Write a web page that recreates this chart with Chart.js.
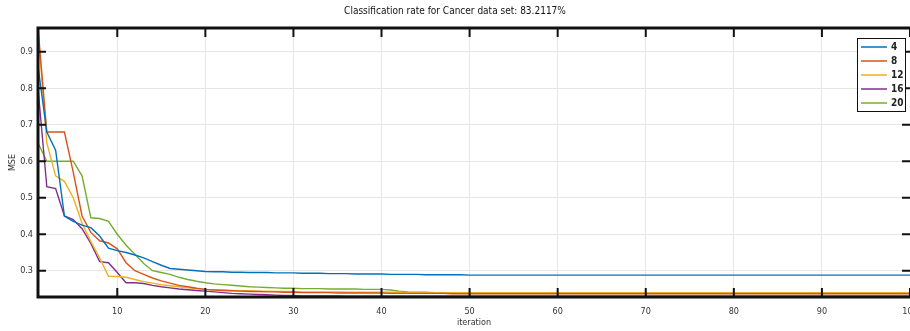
<!DOCTYPE html>
<html>
<head>
<meta charset="utf-8">
<script src="https://cdn.jsdelivr.net/npm/chart.js@4.4.1/dist/chart.umd.min.js"></script>
<style>
  html, body { margin: 0; padding: 0; background: #fff; overflow: hidden; }
  #wrap { position: relative; width: 940px; height: 331px; }
</style>
</head>
<body>
<div id="wrap"><canvas id="mseChart"></canvas></div>
<script>
'use strict';

/* --------------------------------------------------------------------------
   DATA — MSE per iteration for each hidden-layer size
   -------------------------------------------------------------------------- */
const iterations = Array.from({ length: 100 }, (_, i) => i + 1);

const seriesLabels = ['4', '8', '12', '16', '20'];
const seriesColors = ['#0072BD', '#D95319', '#EDB120', '#7E2F8E', '#77AC30'];

const mse4 = [
  0.86, 0.68, 0.63, 0.45, 0.435, 0.425, 0.418, 0.395, 0.362, 0.355,
  0.35, 0.343, 0.335, 0.325, 0.315, 0.306, 0.304, 0.302, 0.300, 0.298,
  0.297, 0.297, 0.296, 0.296, 0.295, 0.295, 0.295, 0.294, 0.294, 0.294,
  0.293, 0.293, 0.293, 0.292, 0.292, 0.292, 0.291, 0.291, 0.291, 0.291,
  0.290, 0.290, 0.290, 0.290, 0.289, 0.289, 0.289, 0.289, 0.289, 0.288,
  0.288, 0.288, 0.288, 0.288, 0.288, 0.288, 0.288, 0.288, 0.288, 0.288,
  0.288, 0.288, 0.288, 0.288, 0.288, 0.288, 0.288, 0.288, 0.288, 0.288,
  0.288, 0.288, 0.288, 0.288, 0.288, 0.288, 0.288, 0.288, 0.288, 0.288,
  0.288, 0.288, 0.288, 0.288, 0.288, 0.288, 0.288, 0.288, 0.288, 0.288,
  0.288, 0.288, 0.288, 0.288, 0.288, 0.288, 0.288, 0.288, 0.288, 0.288,
];
const mse8 = [
  0.965, 0.68, 0.68, 0.68, 0.57, 0.45, 0.405, 0.382, 0.376, 0.36,
  0.322, 0.300, 0.290, 0.280, 0.272, 0.266, 0.260, 0.256, 0.252, 0.249,
  0.247, 0.246, 0.245, 0.244, 0.243, 0.243, 0.242, 0.242, 0.241, 0.241,
  0.240, 0.240, 0.240, 0.240, 0.239, 0.239, 0.239, 0.239, 0.239, 0.239,
  0.238, 0.238, 0.238, 0.238, 0.238, 0.238, 0.238, 0.237, 0.237, 0.237,
  0.237, 0.237, 0.237, 0.237, 0.237, 0.237, 0.237, 0.237, 0.237, 0.237,
  0.237, 0.237, 0.237, 0.237, 0.237, 0.237, 0.237, 0.237, 0.237, 0.237,
  0.237, 0.237, 0.237, 0.237, 0.237, 0.237, 0.237, 0.237, 0.237, 0.237,
  0.237, 0.237, 0.237, 0.237, 0.237, 0.237, 0.237, 0.237, 0.237, 0.237,
  0.237, 0.237, 0.237, 0.237, 0.237, 0.237, 0.237, 0.237, 0.237, 0.237,
];
const mse12 = [
  0.96, 0.65, 0.56, 0.545, 0.50, 0.43, 0.38, 0.335, 0.285, 0.284,
  0.282, 0.276, 0.270, 0.266, 0.262, 0.259, 0.256, 0.253, 0.251, 0.249,
  0.248, 0.247, 0.246, 0.245, 0.245, 0.244, 0.244, 0.243, 0.243, 0.243,
  0.242, 0.242, 0.242, 0.242, 0.242, 0.241, 0.241, 0.241, 0.241, 0.241,
  0.241, 0.241, 0.240, 0.240, 0.240, 0.240, 0.240, 0.240, 0.240, 0.240,
  0.240, 0.240, 0.240, 0.240, 0.240, 0.240, 0.240, 0.240, 0.240, 0.240,
  0.240, 0.240, 0.240, 0.240, 0.240, 0.240, 0.240, 0.240, 0.240, 0.240,
  0.240, 0.240, 0.240, 0.240, 0.240, 0.240, 0.240, 0.240, 0.240, 0.240,
  0.240, 0.240, 0.240, 0.240, 0.240, 0.240, 0.240, 0.240, 0.240, 0.240,
  0.240, 0.240, 0.240, 0.240, 0.240, 0.240, 0.240, 0.240, 0.240, 0.240,
];
const mse16 = [
  0.80, 0.53, 0.525, 0.45, 0.44, 0.415, 0.375, 0.325, 0.322, 0.295,
  0.267, 0.267, 0.265, 0.260, 0.256, 0.253, 0.250, 0.248, 0.246, 0.244,
  0.242, 0.240, 0.238, 0.237, 0.236, 0.235, 0.234, 0.233, 0.232, 0.232,
  0.231, 0.231, 0.231, 0.231, 0.231, 0.230, 0.230, 0.230, 0.230, 0.230,
  0.230, 0.230, 0.230, 0.230, 0.230, 0.230, 0.230, 0.230, 0.230, 0.230,
  0.230, 0.230, 0.230, 0.230, 0.230, 0.230, 0.230, 0.230, 0.230, 0.230,
  0.230, 0.230, 0.230, 0.230, 0.230, 0.230, 0.230, 0.230, 0.230, 0.230,
  0.230, 0.230, 0.230, 0.230, 0.230, 0.230, 0.230, 0.230, 0.230, 0.230,
  0.230, 0.230, 0.230, 0.230, 0.230, 0.230, 0.230, 0.230, 0.230, 0.230,
  0.230, 0.230, 0.230, 0.230, 0.230, 0.230, 0.230, 0.230, 0.230, 0.230,
];
const mse20 = [
  0.65, 0.60, 0.60, 0.60, 0.60, 0.56, 0.445, 0.443, 0.435, 0.40,
  0.37, 0.345, 0.32, 0.30, 0.295, 0.29, 0.282, 0.276, 0.271, 0.267,
  0.264, 0.262, 0.260, 0.258, 0.256, 0.255, 0.254, 0.253, 0.252, 0.252,
  0.251, 0.251, 0.251, 0.250, 0.250, 0.250, 0.250, 0.249, 0.249, 0.249,
  0.247, 0.244, 0.242, 0.241, 0.241, 0.240, 0.240, 0.240, 0.240, 0.240,
  0.240, 0.240, 0.240, 0.240, 0.240, 0.240, 0.240, 0.240, 0.240, 0.240,
  0.240, 0.240, 0.240, 0.240, 0.240, 0.240, 0.240, 0.240, 0.240, 0.240,
  0.240, 0.240, 0.240, 0.240, 0.240, 0.240, 0.240, 0.240, 0.240, 0.240,
  0.240, 0.240, 0.240, 0.240, 0.240, 0.240, 0.240, 0.240, 0.240, 0.240,
  0.240, 0.240, 0.240, 0.240, 0.240, 0.240, 0.240, 0.240, 0.240, 0.240,
];
const seriesValues = [mse4, mse8, mse12, mse16, mse20];

const xTicks = [10, 20, 30, 40, 50, 60, 70, 80, 90, 100];
const yTicks = [0.3, 0.4, 0.5, 0.6, 0.7, 0.8, 0.9];
const yTickLabels = ['0.3', '0.4', '0.5', '0.6', '0.7', '0.8', '0.9'];

const FONT = '"Liberation Sans Narrow", "DejaVu Sans Condensed", Arial, sans-serif';

/* --------------------------------------------------------------------------
   MATLAB-STYLE FRAME — box, inward ticks and boxed legend
   -------------------------------------------------------------------------- */
const matlabFrame = {
  id: 'matlabFrame',
  afterDatasetsDraw(chart) {
    const { ctx, chartArea: a, scales: { x, y } } = chart;
    ctx.save();
    ctx.strokeStyle = '#111';

    // inward tick marks
    ctx.lineWidth = 2;
    ctx.beginPath();
    xTicks.forEach(v => {
      const px = x.getPixelForValue(v);
      ctx.moveTo(px, a.top); ctx.lineTo(px, a.top + 9);
      ctx.moveTo(px, a.bottom); ctx.lineTo(px, a.bottom - 9);
    });
    yTicks.forEach(v => {
      const py = y.getPixelForValue(v);
      ctx.moveTo(a.left, py); ctx.lineTo(a.left + 8, py);
      ctx.moveTo(a.right, py); ctx.lineTo(a.right - 8, py);
    });
    ctx.stroke();

    // box
    ctx.lineWidth = 3;
    ctx.beginPath();
    ctx.moveTo(a.right + 2, a.top);
    ctx.lineTo(a.left, a.top);
    ctx.lineTo(a.left, a.bottom);
    ctx.lineTo(a.right + 2, a.bottom);
    ctx.stroke();

    // legend
    const lx = 857, ly = 38, lw = 48, rowH = 14;
    const lh = rowH * chart.data.datasets.length + 3;
    ctx.fillStyle = '#fff';
    ctx.fillRect(lx, ly, lw, lh);
    ctx.lineWidth = 1;
    ctx.strokeRect(lx + 0.5, ly + 0.5, lw, lh);
    ctx.font = 'bold 10px ' + FONT;
    ctx.textBaseline = 'middle';
    chart.data.datasets.forEach((ds, i) => {
      const ry = ly + 9 + i * rowH;
      ctx.strokeStyle = ds.borderColor;
      ctx.lineWidth = 1.5;
      ctx.beginPath();
      ctx.moveTo(lx + 4, ry); ctx.lineTo(lx + 30, ry);
      ctx.stroke();
      ctx.fillStyle = '#222';
      ctx.fillText(ds.label, lx + 34, ry);
    });
    ctx.restore();
  },
};

/* --------------------------------------------------------------------------
   CHART
   -------------------------------------------------------------------------- */
const ctx = document.getElementById('mseChart').getContext('2d');
new Chart(ctx, {
  type: 'line',
  data: {
    datasets: seriesValues.map((vals, i) => ({
      label: seriesLabels[i],
      data: vals.map((v, k) => ({ x: iterations[k], y: v })),
      borderColor: seriesColors[i],
      borderWidth: 1.4,
      pointRadius: 0,
      tension: 0,
      fill: false,
    })),
  },
  options: {
    responsive: true,
    maintainAspectRatio: false,
    animation: false,
    layout: { padding: { right: 30 } },
    plugins: {
      legend: { display: false },
      tooltip: { enabled: false },
      title: {
        display: true,
        text: 'Classification rate for Cancer data set: 83.2117%',
        color: '#111',
        font: { family: FONT, size: 10, weight: 'normal' },
        padding: { top: 5, bottom: 11 },
      },
    },
    scales: {
      x: {
        type: 'linear',
        min: 1,
        max: 100,
        afterBuildTicks: axis => { axis.ticks = xTicks.map(v => ({ value: v })); },
        afterFit: s => { s.height = 34; },
        border: { display: false },
        grid: { color: '#e6e6e6', lineWidth: 1, drawTicks: false },
        ticks: { color: '#333', padding: 9, maxRotation: 0, font: { family: FONT, size: 9 }, callback: v => String(v) },
        title: { display: true, text: 'iteration', color: '#333', font: { family: FONT, size: 9 }, padding: { top: 0, bottom: 3 } },
      },
      y: {
        min: 0.228,
        max: 0.965,
        afterBuildTicks: axis => { axis.ticks = yTicks.map(v => ({ value: v })); },
        afterFit: s => { s.width = 38; },
        border: { display: false },
        grid: { color: '#e6e6e6', lineWidth: 1, drawTicks: false },
        ticks: {
          color: '#333', padding: 5, font: { family: FONT, size: 9 },
          callback: v => yTickLabels[yTicks.findIndex(t => Math.abs(t - v) < 1e-6)],
        },
        title: { display: true, text: 'MSE', color: '#333', font: { family: FONT, size: 9 }, padding: { top: 7, bottom: 0 } },
      },
    },
  },
  plugins: [matlabFrame],
});
</script>
</body>
</html>
